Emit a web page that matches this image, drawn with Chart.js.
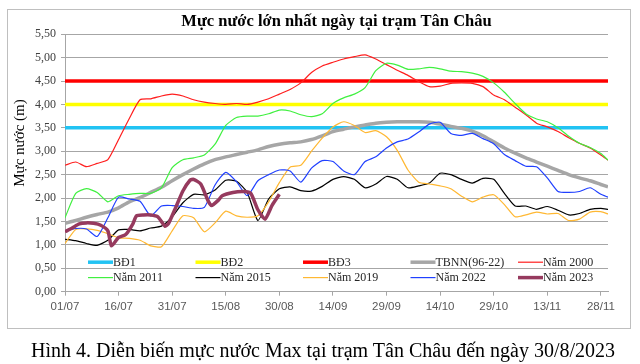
<!DOCTYPE html>
<html>
<head>
<meta charset="utf-8">
<script src="https://cdn.jsdelivr.net/npm/chart.js@4/dist/chart.umd.min.js"></script>
<style>
html,body{margin:0;padding:0;background:#fff;}
#wrap{position:relative;width:640px;height:364px;overflow:hidden;}
#frame{position:absolute;left:7px;top:9px;width:622px;height:318px;border:1px solid #BFBFBF;}
#c{position:absolute;left:0;top:0;}
#cap{position:absolute;left:0;top:340px;width:646px;text-align:center;font-family:"Liberation Serif";font-size:20px;line-height:20px;color:#000;white-space:nowrap;}
</style>
</head>
<body>
<div id="wrap">
<div id="frame"></div>
<canvas id="c" width="640" height="364"></canvas>
<div id="cap">Hình 4. Diễn biến mực nước Max tại trạm Tân Châu đến ngày 30/8/2023</div>
</div>
<script>
// Day index from 01/07 (0) to 30/11 (152)
const tickDays = [0,15,30,45,60,75,90,105,120,135,150];
const tickLabels = ["01/07","16/07","31/07","15/08","30/08","14/09","29/09","14/10","29/10","13/11","28/11"];

const days = [0,3,6,9,12,15,18,21,24,27,30,33,36,39,42,45,48,51,54,57,60,63,66,69,72,75,78,81,84,87,90,93,96,99,102,105,108,111,114,117,120,123,126,129,132,135,138,141,144,147,150,152];

const bd1 = 3.5, bd2 = 4.0, bd3 = 4.5;

const tbnn = [1.46,1.52,1.59,1.65,1.70,1.79,1.92,2.01,2.12,2.23,2.37,2.50,2.62,2.73,2.82,2.88,2.93,2.98,3.03,3.10,3.15,3.18,3.20,3.25,3.33,3.42,3.47,3.52,3.56,3.60,3.62,3.63,3.63,3.63,3.62,3.58,3.53,3.49,3.43,3.33,3.20,3.07,2.96,2.86,2.77,2.68,2.59,2.50,2.43,2.37,2.29,2.24];

const n2000 = [2.70,2.77,2.67,2.74,2.82,3.25,3.70,4.10,4.12,4.18,4.22,4.18,4.10,4.05,4.02,4.00,4.02,4.00,4.05,4.12,4.22,4.32,4.46,4.68,4.82,4.90,4.97,5.02,5.06,4.97,4.85,4.73,4.62,4.49,4.38,4.39,4.45,4.46,4.45,4.38,4.20,4.10,3.94,3.78,3.60,3.52,3.42,3.29,3.17,3.07,2.92,2.81];

const n2011 = [1.58,2.10,2.20,2.12,1.92,2.05,2.08,2.10,2.10,2.22,2.65,2.82,2.86,2.92,3.15,3.55,3.72,3.75,3.75,3.80,3.88,3.86,3.78,3.74,3.80,4.02,4.14,4.22,4.36,4.72,4.88,4.84,4.75,4.76,4.79,4.76,4.71,4.70,4.67,4.60,4.46,4.26,4.02,3.80,3.69,3.63,3.50,3.32,3.17,3.08,2.95,2.81];

const n2015 = [1.12,1.09,1.03,0.99,1.10,1.32,1.33,1.30,1.36,1.40,1.60,1.90,2.08,2.07,2.17,2.38,2.36,2.12,1.52,1.98,2.20,2.24,2.16,2.15,2.25,2.40,2.46,2.40,2.22,2.30,2.46,2.40,2.22,2.26,2.32,2.53,2.50,2.40,2.32,2.42,2.40,2.10,1.83,1.83,1.76,1.82,1.74,1.64,1.67,1.76,1.78,1.76];

const n2019 = [1.03,1.33,1.34,1.31,1.24,1.15,1.14,1.10,0.98,0.96,1.30,1.62,1.58,1.28,1.47,1.72,1.62,1.59,1.62,1.92,2.33,2.66,2.70,3.00,3.28,3.52,3.63,3.55,3.40,3.44,3.31,3.02,2.60,2.34,2.30,2.26,2.20,2.04,1.92,2.02,2.07,1.86,1.60,1.64,1.70,1.66,1.67,1.52,1.55,1.70,1.71,1.66];

const n2022 = [1.30,1.35,1.34,1.18,1.58,2.02,1.98,1.93,1.62,1.83,1.84,1.82,1.78,1.80,2.28,2.55,2.35,2.05,2.37,2.50,2.60,2.58,2.34,2.64,2.80,2.78,2.58,2.50,2.78,2.88,3.07,3.20,3.26,3.41,3.58,3.62,3.38,3.34,3.38,3.27,3.16,2.93,2.80,2.68,2.67,2.43,2.14,2.12,2.14,2.22,2.08,2.02];

const days2023 = [0,2,4,6,8,10,12,13,15,17,19,20,22,24,26,28,29,31,33,35,36,38,40,41,43,44,47,50,52,54,56,58,60];
const n2023 = [1.28,1.36,1.45,1.47,1.46,1.42,1.30,0.98,1.16,1.22,1.45,1.62,1.64,1.64,1.60,1.40,1.46,1.80,2.15,2.38,2.40,2.30,1.95,1.84,1.96,2.05,2.12,2.14,2.10,1.75,1.55,1.85,2.08];

const pts = (xs, ys) => xs.map((x, i) => ({x: x, y: ys[i]}));
const flat = v => [{x: 0, y: v}, {x: 152, y: v}];

const series = [
  {label: 'BĐ1', data: flat(bd1), color: '#22C3F3', w: 3.5},
  {label: 'BĐ2', data: flat(bd2), color: '#FFFF00', w: 3.5},
  {label: 'BĐ3', data: flat(bd3), color: '#FF0000', w: 3.5},
  {label: 'TBNN(96-22)', data: pts(days, tbnn), color: '#A6A6A6', w: 3.5},
  {label: 'Năm 2000', data: pts(days, n2000), color: '#FF1E1E', w: 1.2},
  {label: 'Năm 2011', data: pts(days, n2011), color: '#40F040', w: 1.2},
  {label: 'Năm 2015', data: pts(days, n2015), color: '#000000', w: 1.2},
  {label: 'Năm 2019', data: pts(days, n2019), color: '#FFB833', w: 1.2},
  {label: 'Năm 2022', data: pts(days, n2022), color: '#2040FF', w: 1.2},
  {label: 'Năm 2023', data: pts(days2023, n2023), color: '#963A5E', w: 3.5}
];

const datasets = series.map((s, i) => ({
  label: s.label, data: s.data, borderColor: s.color, backgroundColor: s.color,
  borderWidth: s.w, pointRadius: 0, tension: 0.2, fill: false, order: series.length - 1 - i
}));

const innerLegend = {
  id: 'innerLegend',
  afterDatasetsDraw(chart) {
    const ctx = chart.ctx, a = chart.chartArea;
    ctx.save();
    ctx.font = '12px "Liberation Serif"';
    ctx.textBaseline = 'middle';
    ctx.textAlign = 'left';
    chart.data.datasets.forEach((d, i) => {
      const col = i % 5, row = Math.floor(i / 5);
      const x = a.left + 23 + col * 107.5;
      const y = a.bottom - 29.5 + row * 15.4;
      ctx.strokeStyle = d.borderColor;
      ctx.lineWidth = d.borderWidth;
      ctx.beginPath(); ctx.moveTo(x, y); ctx.lineTo(x + 25, y); ctx.stroke();
      ctx.fillStyle = '#262626';
      ctx.fillText(d.label, x + 25, y + 0.5);
    });
    // y axis title
    ctx.translate(20.5, 143);
    ctx.rotate(-Math.PI / 2);
    ctx.font = '15px "Liberation Serif"';
    ctx.textAlign = 'center';
    ctx.fillStyle = '#000';
    ctx.fillText('Mực nước (m)', 0, 0);
    ctx.restore();
  }
};

new Chart(document.getElementById('c'), {
  type: 'line',
  data: {datasets: datasets},
  options: {
    responsive: false,
    animation: false,
    layout: {padding: {left: 0, right: 32, top: 0, bottom: 44.3}},
    plugins: {
      legend: {display: false},
      tooltip: {enabled: false},
      title: {
        display: true, text: 'Mực nước lớn nhất ngày tại trạm Tân Châu', fullSize: false,
        font: {family: 'Liberation Serif', size: 16.5, weight: 'bold'}, color: '#000',
        padding: {top: 12, bottom: 2.4}
      }
    },
    scales: {
      x: {
        type: 'linear', min: 0, max: 152,
        afterBuildTicks: s => { s.ticks = tickDays.map(v => ({value: v})); },
        afterFit: s => { s.height = 28; },
        ticks: {
          autoSkip: false, maxRotation: 0, padding: 4, color: '#595959',
          font: {family: 'Liberation Sans', size: 11.5},
          callback: v => tickLabels[tickDays.indexOf(v)]
        },
        grid: {display: true, drawOnChartArea: false, drawTicks: true, tickLength: 4, color: '#A6A6A6'},
        border: {display: true, color: '#A6A6A6', width: 1}
      },
      y: {
        min: 0, max: 5.5,
        afterFit: s => { s.width = 65; },
        ticks: {
          stepSize: 0.5, padding: 5, color: '#404040',
          font: {family: 'Liberation Serif', size: 12},
          callback: v => v.toFixed(2).replace('.', ',')
        },
        grid: {color: '#A6A6A6', tickLength: 4, lineWidth: 1},
        border: {display: true, color: '#A6A6A6', width: 1}
      }
    }
  },
  plugins: [innerLegend]
});
</script>
</body>
</html>
